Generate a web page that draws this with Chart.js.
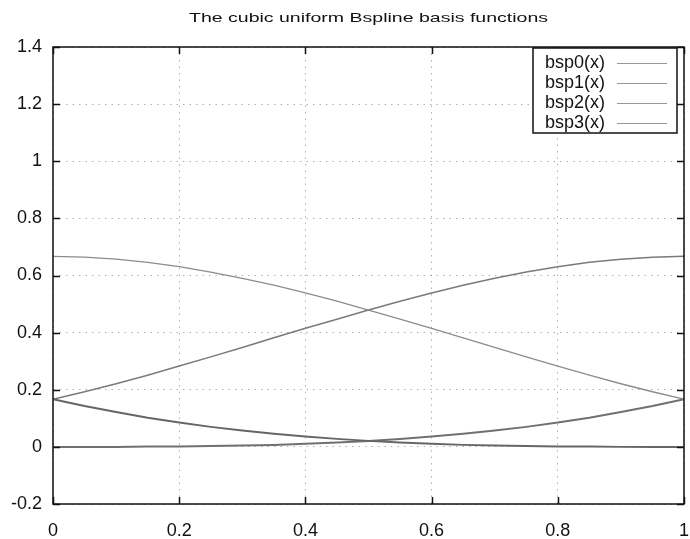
<!DOCTYPE html>
<html>
<head>
<meta charset="utf-8">
<script src="https://cdn.jsdelivr.net/npm/chart.js@4.4.1/dist/chart.umd.min.js"></script>
<style>
  html, body { margin: 0; padding: 0; background: #fff; }
  #wrap { width: 690px; height: 539px; }
</style>
</head>
<body>
<div id="wrap"><canvas id="bspline-chart"></canvas></div>
<script>
var xs = [0, 0.05, 0.1, 0.15, 0.2, 0.25, 0.3, 0.35, 0.4, 0.45, 0.5,
          0.55, 0.6, 0.65, 0.7, 0.75, 0.8, 0.85, 0.9, 0.95, 1];
var bsp0 = [0.167, 0.143, 0.122, 0.102, 0.085, 0.070, 0.057, 0.046, 0.036, 0.028, 0.021,
            0.015, 0.011, 0.007, 0.005, 0.003, 0.001, 0.001, 0.000, 0.000, 0.000];
var bsp1 = [0.667, 0.664, 0.657, 0.646, 0.631, 0.612, 0.590, 0.566, 0.539, 0.510, 0.479,
            0.447, 0.415, 0.382, 0.348, 0.315, 0.283, 0.251, 0.221, 0.193, 0.167];
var bsp2 = [0.167, 0.193, 0.221, 0.251, 0.283, 0.315, 0.348, 0.382, 0.415, 0.447, 0.479,
            0.510, 0.539, 0.566, 0.590, 0.612, 0.631, 0.646, 0.657, 0.664, 0.667];
var bsp3 = [0.000, 0.000, 0.000, 0.001, 0.001, 0.003, 0.005, 0.007, 0.011, 0.015, 0.021,
            0.028, 0.036, 0.046, 0.057, 0.070, 0.085, 0.102, 0.122, 0.143, 0.167];
var seriesNames = ["bsp0(x)", "bsp1(x)", "bsp2(x)", "bsp3(x)"];
var chartTitle = "The cubic uniform Bspline basis functions";

function pts(ys) {
  return xs.map(function (x, i) { return { x: x, y: ys[i] }; });
}

var tickFont = { family: "'Liberation Sans', Arial, sans-serif", size: 18 };

// frame, inner tick marks, title and the boxed legend
var gnuplotLook = {
  id: "gnuplotLook",
  afterDraw: function (chart) {
    var ctx = chart.ctx, a = chart.chartArea;
    var xsc = chart.scales.x, ysc = chart.scales.y;
    ctx.save();
    ctx.strokeStyle = "#111";
    ctx.lineWidth = 1.5;
    ctx.strokeRect(a.left, a.top, a.right - a.left, a.bottom - a.top);
    ctx.beginPath();
    xsc.ticks.forEach(function (t) {
      var px = Math.round(xsc.getPixelForValue(t.value)) + 0.5;
      ctx.moveTo(px, a.bottom); ctx.lineTo(px, a.bottom - 7);
      ctx.moveTo(px, a.top); ctx.lineTo(px, a.top + 7);
    });
    ysc.ticks.forEach(function (t) {
      var py = Math.round(ysc.getPixelForValue(t.value)) + 0.5;
      ctx.moveTo(a.left, py); ctx.lineTo(a.left + 7, py);
      ctx.moveTo(a.right, py); ctx.lineTo(a.right - 7, py);
    });
    ctx.stroke();

    // title, drawn a bit wide like the original
    ctx.font = "13px 'Liberation Sans', Arial, sans-serif";
    ctx.fillStyle = "#111";
    ctx.textBaseline = "middle";
    ctx.textAlign = "center";
    var w = ctx.measureText(chartTitle).width;
    ctx.save();
    ctx.translate((a.left + a.right) / 2, 18);
    ctx.scale(359 / w, 1);
    ctx.fillText(chartTitle, 0, 0);
    ctx.restore();

    // legend box
    var bx = 533, by = 48, bw = 144, bh = 85;
    ctx.fillStyle = "#fff";
    ctx.fillRect(bx, by, bw, bh);
    ctx.font = "18px 'Liberation Sans', Arial, sans-serif";
    ctx.textAlign = "left";
    chart.data.datasets.forEach(function (ds, i) {
      var cy = 63 + i * 20;
      ctx.fillStyle = "#111";
      ctx.fillText(ds.label, 545, cy);
      ctx.strokeStyle = "#999";
      ctx.lineWidth = 1;
      ctx.beginPath();
      ctx.moveTo(617, cy + 0.5); ctx.lineTo(667, cy + 0.5);
      ctx.stroke();
    });
    ctx.strokeStyle = "#111";
    ctx.lineWidth = 1.5;
    ctx.strokeRect(bx, by, bw, bh);
    ctx.restore();
  }
};

new Chart(document.getElementById("bspline-chart"), {
  type: "scatter",
  data: {
    datasets: [
      { label: seriesNames[0], data: pts(bsp0), borderColor: "#666666", borderWidth: 2 },
      { label: seriesNames[1], data: pts(bsp1), borderColor: "#8c8c8c", borderWidth: 1.3 },
      { label: seriesNames[2], data: pts(bsp2), borderColor: "#7a7a7a", borderWidth: 1.5 },
      { label: seriesNames[3], data: pts(bsp3), borderColor: "#707070", borderWidth: 2 },
    ],
  },
  options: {
    responsive: true,
    maintainAspectRatio: false,
    animation: false,
    showLine: true,
    elements: { point: { radius: 0 }, line: { tension: 0 } },
    layout: { padding: { top: 47, right: 6, left: 0, bottom: 0 } },
    plugins: {
      legend: { display: false },
      title: { display: false },
      tooltip: { enabled: false },
    },
    scales: {
      x: {
        type: "linear",
        min: 0,
        max: 1,
        ticks: {
          stepSize: 0.2,
          padding: 16,
          color: "#111",
          font: tickFont,
          maxRotation: 0,
          callback: function (v) { return String(Number(v.toFixed(1))); },
        },
        grid: { color: "#b0b0b0", lineWidth: 1, drawTicks: false },
        border: { display: false, dash: [1.5, 5] },
        afterFit: function (s) { s.height = 35; s.paddingLeft = 0; s.paddingRight = 0; },
      },
      y: {
        min: -0.2,
        max: 1.4,
        ticks: {
          stepSize: 0.2,
          padding: 11,
          color: "#111",
          font: tickFont,
          callback: function (v) { return String(Number(v.toFixed(1))); },
        },
        grid: { color: "#b0b0b0", lineWidth: 1, drawTicks: false },
        border: { display: false, dash: [1.5, 5] },
        afterFit: function (s) { s.width = 53; s.paddingTop = 0; s.paddingBottom = 0; },
      },
    },
  },
  plugins: [gnuplotLook],
});
</script>
</body>
</html>
